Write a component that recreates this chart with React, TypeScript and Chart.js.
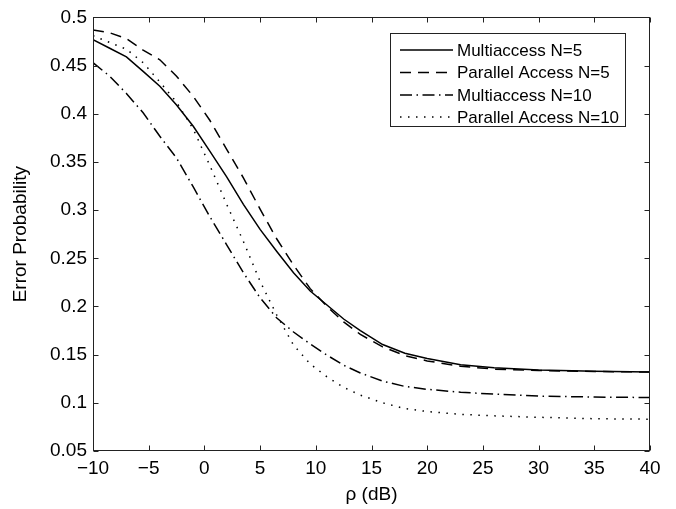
import { useEffect, useRef } from 'react';
import { Chart, registerables } from 'chart.js';

Chart.register(...registerables);

// SNR values (dB) at which each curve is sampled
const rho = [-10, -8.5, -7, -5.5, -4, -2.5, -1, 0.5, 2, 3.5, 5, 6.5, 8, 9.5, 11, 12.5, 14, 16, 18, 20, 23, 26, 30, 35, 40];

const multiaccessN5 = [0.477, 0.468, 0.459, 0.444, 0.4286, 0.409, 0.387, 0.361, 0.3345, 0.306, 0.28, 0.257, 0.235, 0.216, 0.2015, 0.187, 0.175, 0.1605, 0.1515, 0.146, 0.1395, 0.1365, 0.134, 0.1328, 0.132];
const parallelN5 = [0.487, 0.484, 0.478, 0.466, 0.456, 0.439, 0.418, 0.393, 0.363, 0.3335, 0.301, 0.27, 0.243, 0.2185, 0.2, 0.184, 0.171, 0.158, 0.149, 0.1435, 0.138, 0.135, 0.1335, 0.1325, 0.132];
const multiaccessN10 = [0.453, 0.439, 0.421, 0.401, 0.3766, 0.354, 0.324, 0.293, 0.264, 0.235, 0.209, 0.188, 0.1735, 0.161, 0.1495, 0.139, 0.131, 0.1225, 0.117, 0.114, 0.111, 0.109, 0.107, 0.106, 0.1055];
const parallelN10 = [0.481, 0.474, 0.467, 0.453, 0.433, 0.412, 0.384, 0.346, 0.306, 0.2675, 0.226, 0.191, 0.16, 0.1403, 0.127, 0.116, 0.108, 0.1, 0.094, 0.091, 0.088, 0.0865, 0.085, 0.0835, 0.083];

const seriesLabels = ['Multiaccess N=5', 'Parallel Access N=5', 'Multiaccess N=10', 'Parallel Access N=10'];
const seriesValues = [multiaccessN5, parallelN5, multiaccessN10, parallelN10];
const seriesDash: number[][] = [[], [11, 7], [12, 4.5, 1.5, 4.5], [1.5, 6.5]];

const xTicks = [-10, -5, 0, 5, 10, 15, 20, 25, 30, 35, 40];
const yTicks = [0.05, 0.1, 0.15, 0.2, 0.25, 0.3, 0.35, 0.4, 0.45, 0.5];

const xTitle = 'ρ (dB)';
const yTitle = 'Error Probability';

const FONT = '"Liberation Sans", Arial, Helvetica, sans-serif';
const INK = '#000';
const FRAME = '#222';

const fmtX = (v: number) => (v < 0 ? '\u2212' + Math.abs(v) : String(v));
const fmtY = (v: number) => String(Number(v.toFixed(2)));

// Box frame, inward tick marks, axis titles and a boxed legend
const decorations = {
  id: 'decorations',
  afterDraw(chart: any) {
    const { ctx, chartArea: a, scales } = chart;
    const xs = scales.x;
    const ys = scales.y;
    const L = Math.round(a.left) + 0.5;
    const R = Math.round(a.right) - 0.5;
    const T = Math.round(a.top) + 0.5;
    const B = Math.round(a.bottom) - 0.5;
    const tick = 5;

    ctx.save();
    ctx.strokeStyle = FRAME;
    ctx.lineWidth = 1;
    ctx.setLineDash([]);
    ctx.strokeRect(L, T, R - L, B - T);

    ctx.beginPath();
    for (const v of xTicks) {
      const px = Math.round(xs.getPixelForValue(v)) + 0.5;
      ctx.moveTo(px, B);
      ctx.lineTo(px, B - tick);
      ctx.moveTo(px, T);
      ctx.lineTo(px, T + tick);
    }
    for (const v of yTicks) {
      const py = Math.round(ys.getPixelForValue(v)) + 0.5;
      ctx.moveTo(L, py);
      ctx.lineTo(L + tick, py);
      ctx.moveTo(R, py);
      ctx.lineTo(R - tick, py);
    }
    ctx.stroke();

    // axis titles
    ctx.fillStyle = INK;
    ctx.font = `19px ${FONT}`;
    ctx.textAlign = 'center';
    ctx.textBaseline = 'middle';
    ctx.fillText(xTitle, (a.left + a.right) / 2, 495);
    ctx.save();
    ctx.translate(21, (a.top + a.bottom) / 2);
    ctx.rotate(-Math.PI / 2);
    ctx.fillText(yTitle, 0, 0);
    ctx.restore();

    // legend
    const bx = 390.5, by = 33.5, bw = 235, bh = 93;
    ctx.fillStyle = '#fff';
    ctx.fillRect(bx, by, bw, bh);
    ctx.strokeStyle = FRAME;
    ctx.strokeRect(bx, by, bw, bh);
    const rowY = [50, 72.5, 95, 117];
    ctx.font = `17px ${FONT}`;
    ctx.textAlign = 'left';
    ctx.textBaseline = 'middle';
    seriesLabels.forEach((label, i) => {
      ctx.beginPath();
      ctx.strokeStyle = INK;
      ctx.lineWidth = 1.5;
      ctx.setLineDash(seriesDash[i]);
      ctx.moveTo(400, rowY[i]);
      ctx.lineTo(453, rowY[i]);
      ctx.stroke();
      ctx.setLineDash([]);
      ctx.fillStyle = INK;
      ctx.fillText(label, 457, rowY[i] + 1);
    });
    ctx.restore();
  },
};

export default function App() {
  const canvasRef = useRef<HTMLCanvasElement | null>(null);

  useEffect(() => {
    const canvas = canvasRef.current;
    if (!canvas) return;
    const chart = new Chart(canvas, {
      type: 'line',
      data: {
        datasets: seriesLabels.map((label, i) => ({
          label,
          data: rho.map((x, j) => ({ x, y: seriesValues[i][j] })),
          borderColor: INK,
          borderWidth: 1.5,
          borderDash: seriesDash[i],
          pointRadius: 0,
          tension: 0,
          fill: false,
        })),
      },
      options: {
        animation: false,
        responsive: false,
        devicePixelRatio: 1,
        layout: { padding: { top: 10, right: 26, left: 0, bottom: 0 } },
        plugins: { legend: { display: false }, tooltip: { enabled: false } },
        scales: {
          x: {
            type: 'linear',
            min: -10,
            max: 40,
            grid: { display: false, drawTicks: false },
            border: { display: false },
            afterBuildTicks: (s: any) => {
              s.ticks = xTicks.map((value) => ({ value }));
            },
            afterFit: (s: any) => {
              s.height = 58;
            },
            ticks: {
              color: INK,
              font: { family: FONT, size: 19 },
              padding: 6,
              maxRotation: 0,
              autoSkip: false,
              callback: (v: any) => fmtX(Number(v)),
            },
          },
          y: {
            type: 'linear',
            min: 0.05,
            max: 0.5,
            grid: { display: false, drawTicks: false },
            border: { display: false },
            afterBuildTicks: (s: any) => {
              s.ticks = yTicks.map((value) => ({ value }));
            },
            afterFit: (s: any) => {
              s.width = 93;
            },
            ticks: {
              color: INK,
              font: { family: FONT, size: 19 },
              padding: 6,
              autoSkip: false,
              callback: (v: any) => fmtY(Number(v)),
            },
          },
        },
      },
      plugins: [decorations],
    });
    return () => chart.destroy();
  }, []);

  return (
    <div style={{ position: 'fixed', left: 0, top: 0, width: 676, height: 509, background: '#fff' }}>
      <canvas ref={canvasRef} width={676} height={509} style={{ display: 'block' }} />
    </div>
  );
}
